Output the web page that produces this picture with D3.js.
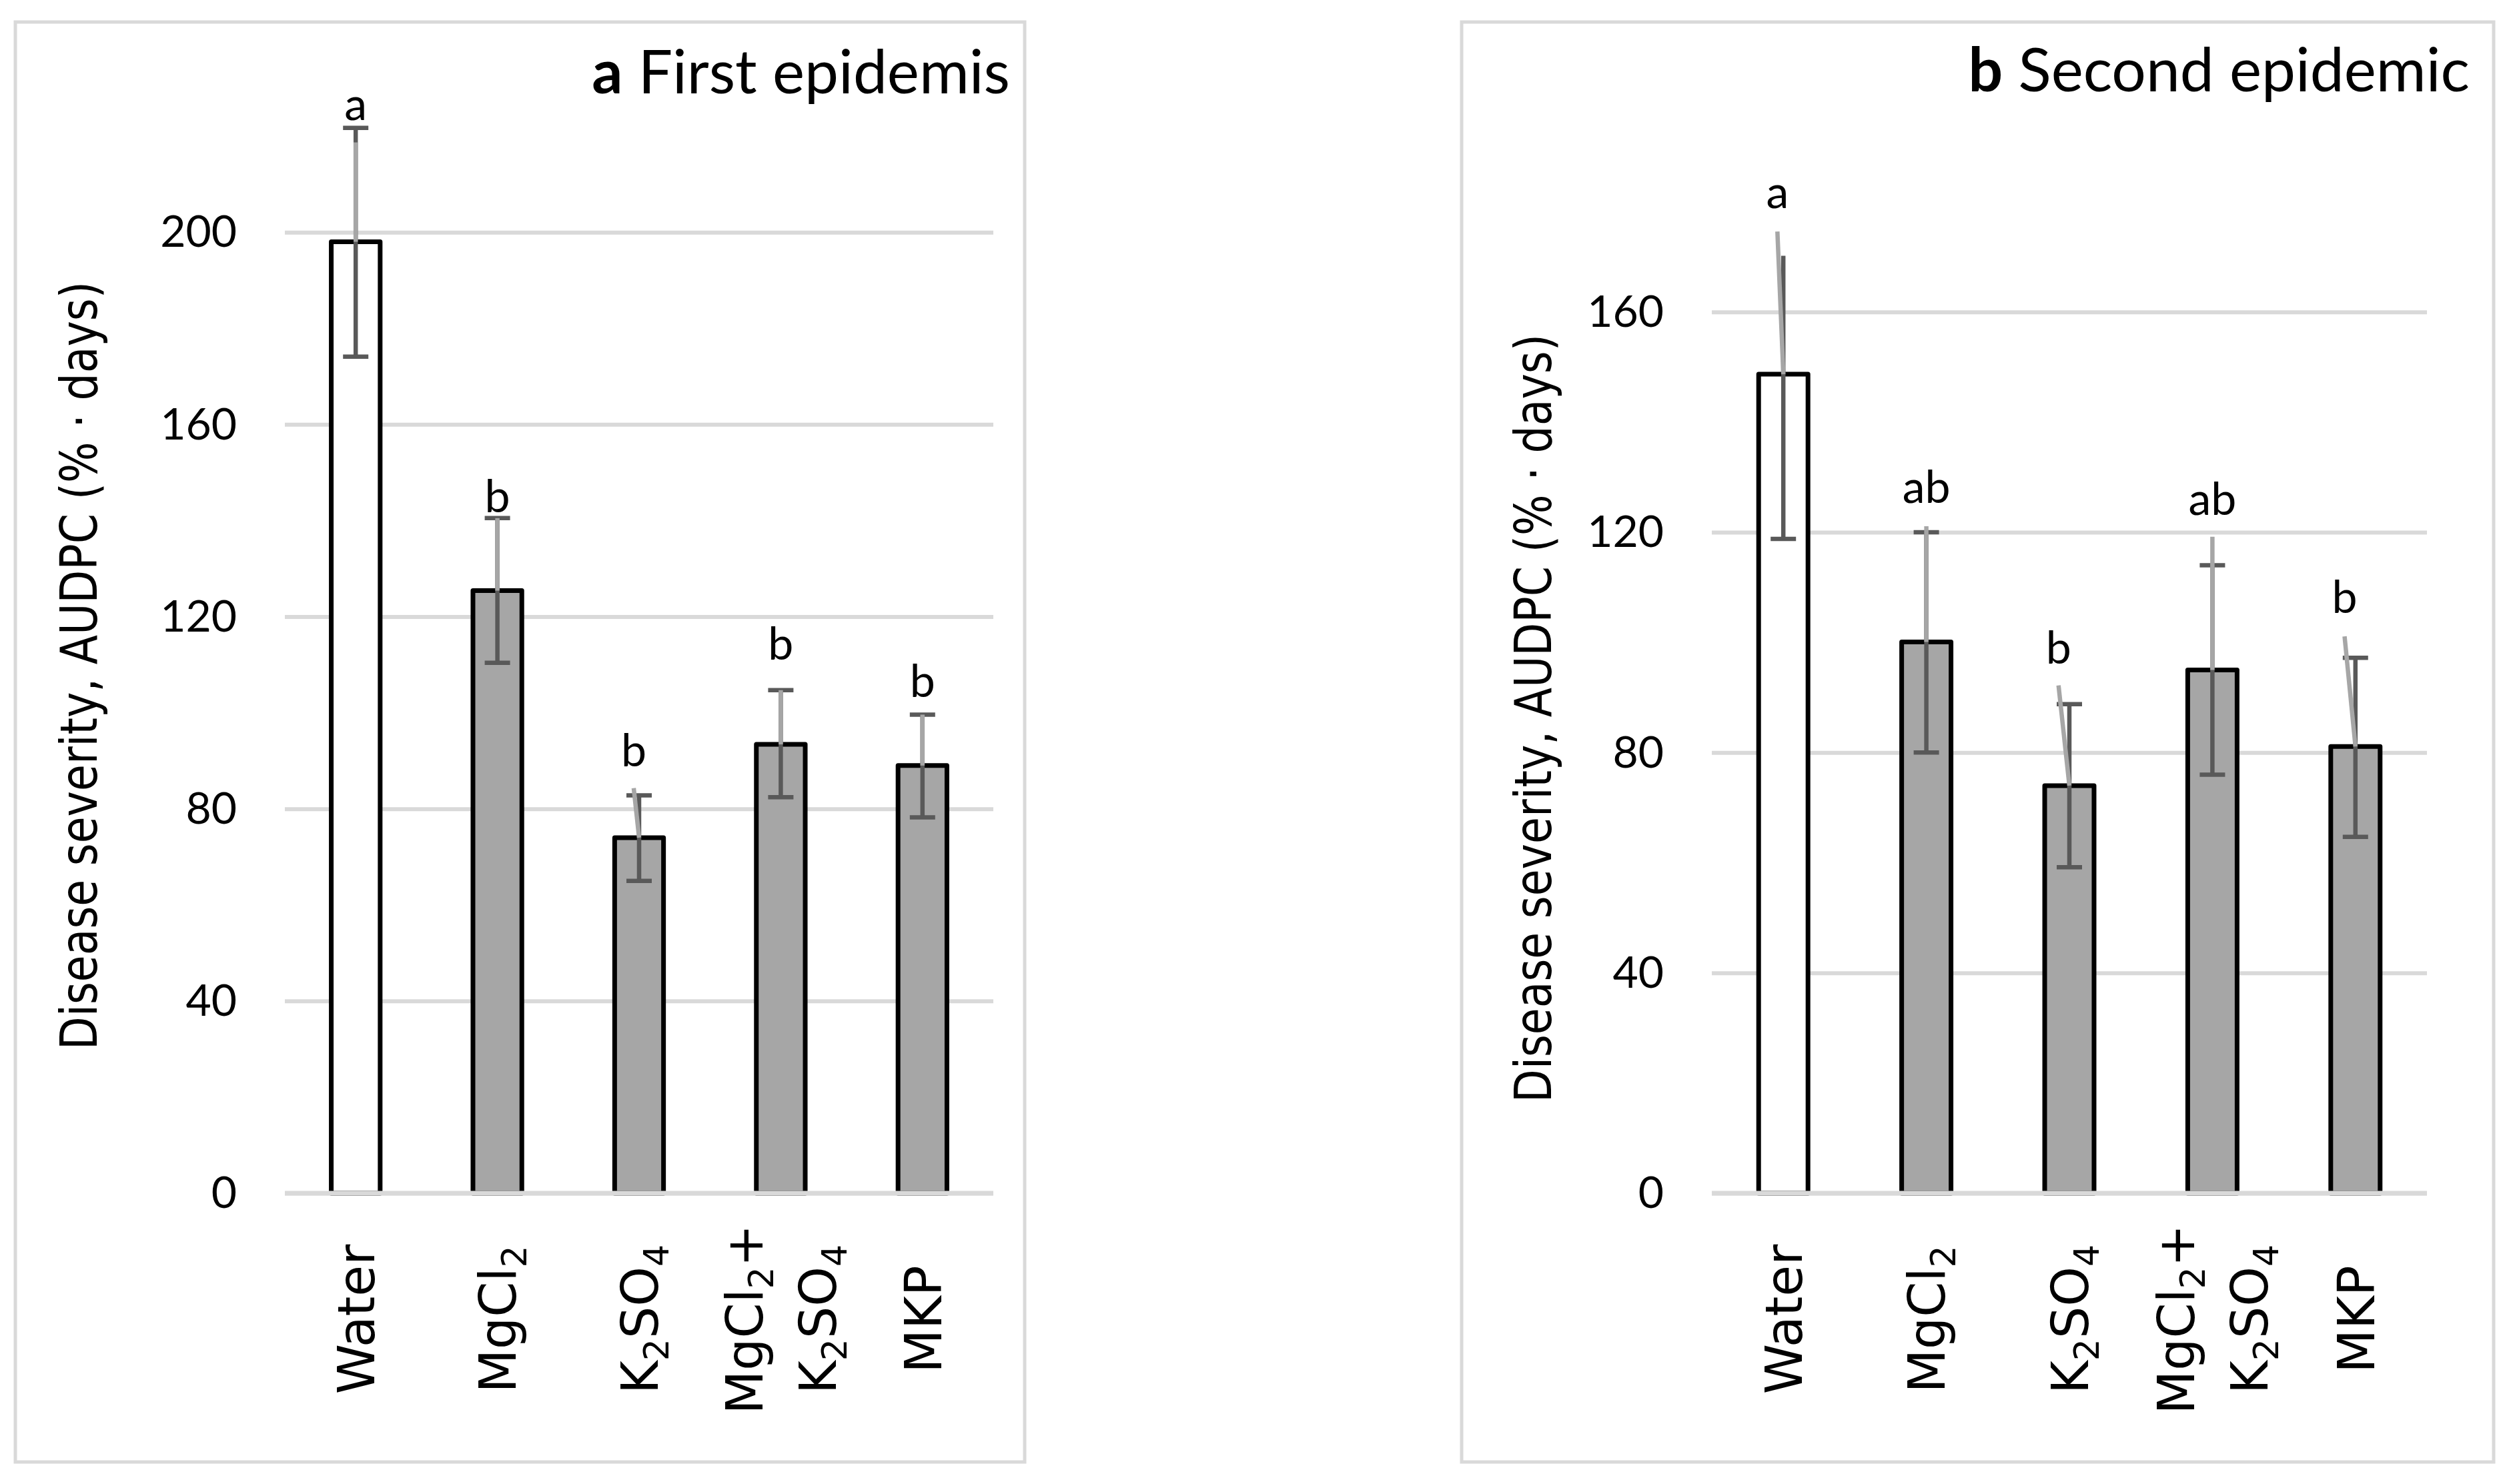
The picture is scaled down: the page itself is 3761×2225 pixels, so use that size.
<!DOCTYPE html>
<html>
<head>
<meta charset="utf-8">
<script src="https://cdn.jsdelivr.net/npm/d3@7"></script>
<style>
  body { margin: 0; background: #fff; }
</style>
</head>
<body>
<script>
// categories ("_2" marks a subscript digit, "\n" a line break)
const categories = ['Water', 'MgCl_2', 'K_2SO_4', 'MgCl_2+\nK_2SO_4', 'MKP'];

// panel a - first epidemic (AUDPC, % * days)
const meanA = [198.0, 125.4, 74.0, 93.4, 89.0];
const lowA = [174.1, 110.4, 65.0, 82.4, 78.2];
const highA = [221.7, 140.5, 82.8, 104.7, 99.6];
const capTopA = [true, true, true, true, true];
const greyTopA = [218.7, 140.5, 84.3, 104.7, 99.6];   // light grey overlay line ends here
const tiltA = [0, 0, -0.11, 0, 0];                      // overlay lean, in bar widths
const letterA = ['a', 'b', 'b', 'b', 'b'];
const letterAtA = [223.3, 141.7, 88.9, 111.0, 103.3];
const ticksA = [0, 40, 80, 120, 160, 200];

// panel b - second epidemic
const meanB = [148.7, 100.1, 74.0, 95.0, 81.1];
const lowB = [118.8, 80.0, 59.2, 76.0, 64.7];
const highB = [170.2, 120.0, 88.8, 114.0, 97.2];
const capTopB = [false, true, true, true, true];
const greyTopB = [174.6, 121.1, 92.2, 119.2, 101.1];
const tiltB = [-0.12, 0, -0.22, 0, -0.22];
const letterB = ['a', 'ab', 'b', 'ab', 'b'];
const letterAtB = [178.9, 125.3, 96.2, 123.2, 105.3];
const ticksB = [0, 40, 80, 120, 160];

const yTitle = 'Disease severity, AUDPC (% \u00b7 days)';

// fonts
const CAL = "Lato, 'Open Sans', sans-serif";
const VER = "'DejaVu Sans', Verdana, sans-serif";

const svg = d3.select('body')
    .append('svg')
    .attr('width', 3761)
    .attr('height', 2225);

svg.append('rect')
    .attr('width', 3761)
    .attr('height', 2225)
    .attr('fill', '#fff');

const panels = [{
        frame: [23, 33, 1513, 2159],
        left: 427, right: 1489, top: 132, bottom: 1789, max: 230,
        titleX: 1514, titleY: 140, tag: 'a', title: ' First epidemis',
        yLabX: 145, yLabY: 998,
        mean: meanA, low: lowA, high: highA, capTop: capTopA,
        greyTop: greyTopA, tilt: tiltA, letter: letterA, letterAt: letterAtA,
        ticks: ticksA
    },
    {
        frame: [2191, 33, 1547, 2159],
        left: 2566, right: 3638, top: 220, bottom: 1789, max: 190,
        titleX: 3702, titleY: 137, tag: 'b', title: ' Second epidemic',
        yLabX: 2325, yLabY: 1077,
        mean: meanB, low: lowB, high: highB, capTop: capTopB,
        greyTop: greyTopB, tilt: tiltB, letter: letterB, letterAt: letterAtB,
        ticks: ticksB
    }
];

panels.forEach(drawPanel);

function drawPanel(p) {
    const g = svg.append('g');

    // chart frame
    g.append('rect')
        .attr('x', p.frame[0]).attr('y', p.frame[1])
        .attr('width', p.frame[2]).attr('height', p.frame[3])
        .attr('fill', 'none')
        .attr('stroke', '#d9d9d9')
        .attr('stroke-width', 5);

    const x = d3.scaleBand()
        .domain(categories)
        .range([p.left, p.right])
        .paddingInner(0.655)
        .paddingOuter(0.3275);

    const y = d3.scaleLinear()
        .domain([0, p.max])
        .range([p.bottom, p.top]);

    const bw = x.bandwidth();
    const cx = (d, i) => x(categories[i]) + bw / 2;

    // gridlines + tick labels
    const axis = d3.axisLeft(y)
        .tickValues(p.ticks)
        .tickSize(-(p.right - p.left))
        .tickPadding(72)
        .tickFormat(d3.format('d'));

    const ax = g.append('g')
        .attr('transform', `translate(${p.left},0)`)
        .call(axis);
    ax.select('.domain').remove();
    ax.selectAll('line')
        .attr('stroke', '#d9d9d9')
        .attr('stroke-width', 6);
    ax.selectAll('text')
        .attr('fill', '#000')
        .attr('dy', '0.33em')
        .style('font-family', CAL)
        .style('font-size', '66px');

    // bars
    g.selectAll('.bar')
        .data(p.mean)
        .enter()
        .append('rect')
        .attr('class', 'bar')
        .attr('x', (d, i) => x(categories[i]))
        .attr('y', d => y(d))
        .attr('width', bw)
        .attr('height', d => y(0) - y(d))
        .attr('fill', (d, i) => i === 0 ? '#ffffff' : '#a6a6a6')
        .attr('stroke', '#000')
        .attr('stroke-width', 7)
        .attr('stroke-linejoin', 'round');

    // axis line sits on top of the bar bottoms
    g.append('line')
        .attr('x1', p.left).attr('x2', p.right)
        .attr('y1', y(0)).attr('y2', y(0))
        .attr('stroke', '#d9d9d9')
        .attr('stroke-width', 7);

    // error bars (dark)
    const err = g.append('g')
        .attr('stroke', '#595959')
        .attr('stroke-width', 6.5);
    err.selectAll('.stem')
        .data(p.mean)
        .enter()
        .append('line')
        .attr('x1', cx).attr('x2', cx)
        .attr('y1', (d, i) => y(p.low[i]))
        .attr('y2', (d, i) => y(p.high[i]));
    const capHalf = 19;
    err.selectAll('.capLow')
        .data(p.low)
        .enter()
        .append('line')
        .attr('x1', (d, i) => cx(d, i) - capHalf)
        .attr('x2', (d, i) => cx(d, i) + capHalf)
        .attr('y1', d => y(d)).attr('y2', d => y(d));
    err.selectAll('.capHigh')
        .data(p.high.filter((d, i) => p.capTop[i]))
        .enter()
        .append('line')
        .attr('x1', d => cx(d, p.high.indexOf(d)) - capHalf)
        .attr('x2', d => cx(d, p.high.indexOf(d)) + capHalf)
        .attr('y1', d => y(d)).attr('y2', d => y(d));

    // light grey overlay above each bar
    g.selectAll('.grey')
        .data(p.greyTop)
        .enter()
        .append('line')
        .attr('x1', cx)
        .attr('y1', (d, i) => y(p.mean[i]))
        .attr('x2', (d, i) => cx(d, i) + p.tilt[i] * bw)
        .attr('y2', d => y(d))
        .attr('stroke', '#a6a6a6')
        .attr('stroke-width', 6.5);

    // significance letters
    g.selectAll('.letter')
        .data(p.letter)
        .enter()
        .append('text')
        .attr('x', (d, i) => cx(d, i) + p.tilt[i] * bw)
        .attr('y', (d, i) => y(p.letterAt[i]))
        .attr('text-anchor', 'middle')
        .style('font-family', CAL)
        .style('font-size', '68px')
        .text(d => d);

    // category labels, rotated
    const fs = 76, sub = 52, shift = 16, gap = 110;
    categories.forEach((c, i) => {
        const lines = c.split('\n');
        lines.forEach((line, j) => {
            const off = (j - (lines.length - 1) / 2) * gap + fs * 0.365;
            const t = g.append('text')
                .attr('transform', `translate(${cx(null, i) + off},1978) rotate(-90)`)
                .attr('text-anchor', 'middle')
                .style('font-family', VER)
                .style('font-size', fs + 'px');
            let low = false;
            line.split(/(_\d)/).filter(s => s.length).forEach(part => {
                if (part[0] === '_') {
                    t.append('tspan').attr('dy', shift).style('font-size', sub + 'px').text(part.slice(1));
                    low = true;
                } else {
                    t.append('tspan').attr('dy', low ? -shift : 0).text(part);
                    low = false;
                }
            });
        });
    });

    // y axis title
    g.append('text')
        .attr('transform', `translate(${p.yLabX},${p.yLabY}) rotate(-90)`)
        .attr('text-anchor', 'middle')
        .attr('textLength', 1152)
        .attr('lengthAdjust', 'spacingAndGlyphs')
        .style('font-family', VER)
        .style('font-size', '76px')
        .text(yTitle);

    // panel title
    const tt = g.append('text')
        .attr('x', p.titleX)
        .attr('y', p.titleY)
        .attr('text-anchor', 'end')
        .style('font-family', CAL)
        .style('font-size', '91px');
    tt.append('tspan').style('font-weight', 'bold').text(p.tag);
    tt.append('tspan').text(p.title);
}
</script>
</body>
</html>
